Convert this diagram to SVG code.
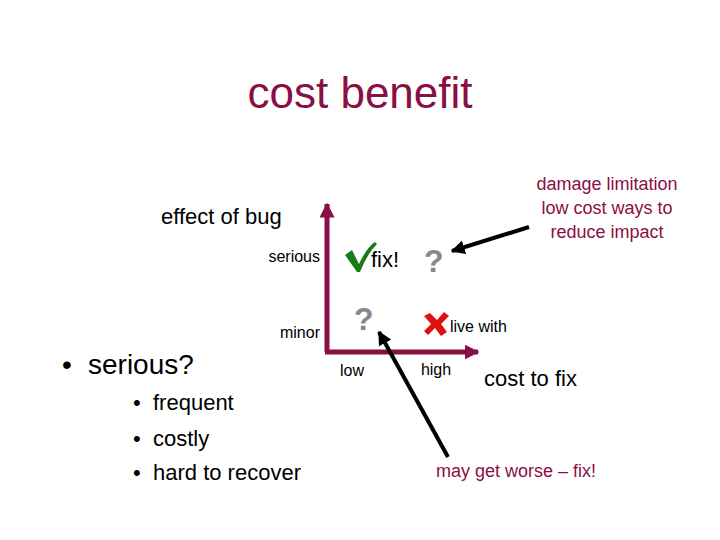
<svg xmlns="http://www.w3.org/2000/svg" width="720" height="540" viewBox="0 0 720 540">
<style>
text{font-family:"Liberation Sans",Arial,sans-serif}
.m{fill:#8a0f45}
.k{fill:#000}
.q{fill:#888;font-weight:bold;font-size:32px}
</style>
<defs>
<marker id="ma" viewBox="0 0 10 10" refX="9" refY="5" markerWidth="3" markerHeight="3" orient="auto"><path d="M0,0L10,5L0,10z" fill="#8a0f45"/></marker>
<marker id="ka" viewBox="0 0 10 10" refX="9" refY="5" markerWidth="3.5" markerHeight="3.5" orient="auto"><path d="M0,0L10,5L0,10z" fill="#000"/></marker>
</defs>
<rect width="720" height="540" fill="#fff"/>
<text x="360" y="108" text-anchor="middle" font-size="44" class="m">cost benefit</text>
<g id="labels">
<text x="161" y="224" font-size="22" class="k">effect of bug</text>
<text x="320" y="262" font-size="16" text-anchor="end" class="k">serious</text>
<text x="320" y="338" font-size="16" text-anchor="end" class="k">minor</text>
<text x="352" y="376" font-size="16" text-anchor="middle" class="k">low</text>
<text x="436" y="375" font-size="16" text-anchor="middle" class="k">high</text>
<text x="484" y="386" font-size="22" class="k">cost to fix</text>
<text x="607" y="190" font-size="18" text-anchor="middle" class="m">damage limitation</text>
<text x="607" y="214" font-size="18" text-anchor="middle" class="m">low cost ways to</text>
<text x="607" y="238" font-size="18" text-anchor="middle" class="m">reduce impact</text>
<text x="516" y="477" font-size="18" text-anchor="middle" class="m">may get worse – fix!</text>
<text x="62" y="374" font-size="28" class="k">•</text>
<text x="88" y="374" font-size="28" class="k">serious?</text>
<text x="133" y="410" font-size="22" class="k">•</text>
<text x="153" y="410" font-size="22" class="k">frequent</text>
<text x="133" y="446" font-size="22" class="k">•</text>
<text x="153" y="446" font-size="22" class="k">costly</text>
<text x="133" y="480" font-size="22" class="k">•</text>
<text x="153" y="480" font-size="22" class="k">hard to recover</text>
</g>
<g id="cells">
<path d="M345,255 L352,250 L359,264 Q367,247 375,242 L377,244 Q367,254 360,272 L357,272 Z" fill="#1a7a1a"/>
<text x="371" y="267" font-size="22" class="k">fix!</text>
<text x="424" y="272" class="q">?</text>
<text x="354" y="330" class="q">?</text>
<path d="M424,316 L430,313 L437,320 L444,312 L449,316 L441,324 L447,332 L441,336 L435,328 L428,335 L424,331 L431,324 Z" fill="#e01010"/>
<text x="450" y="332" font-size="16" class="k">live with</text>
</g>
<g id="connectors" fill="none">
<path d="M327,352 V204" stroke="#8a0f45" stroke-width="5" marker-end="url(#ma)"/>
<path d="M325,352 H478" stroke="#8a0f45" stroke-width="5" marker-end="url(#ma)"/>
<path d="M529,227 L452,251" stroke="#000" stroke-width="4" marker-end="url(#ka)"/>
<path d="M448,457 L379,332" stroke="#000" stroke-width="4" marker-end="url(#ka)"/>
</g>
</svg>
